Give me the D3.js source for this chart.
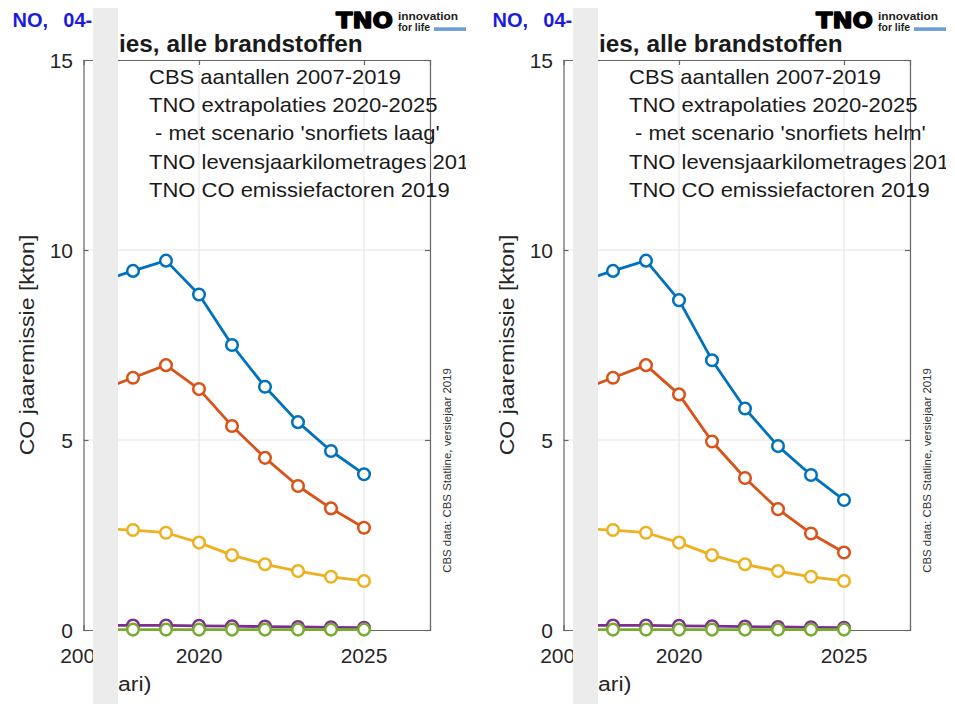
<!DOCTYPE html>
<html><head><meta charset="utf-8">
<script src="https://cdn.jsdelivr.net/npm/d3@7"></script>
<style>body{margin:0;background:#fff}svg{display:block}</style>
</head><body>
<svg id="chart" width="955" height="704"></svg>
<script>
// ---- data ----
const years = [2017, 2018, 2019, 2020, 2021, 2022, 2023, 2024, 2025];
const blueLaag   = [9.17, 9.45, 9.72, 8.83, 7.50, 6.40, 5.47, 4.71, 4.10];
const orangeLaag = [6.30, 6.64, 6.97, 6.34, 5.37, 4.53, 3.79, 3.20, 2.69];
const yellowLaag = [2.67, 2.63, 2.56, 2.30, 1.97, 1.73, 1.55, 1.40, 1.29];
const blueHelm   = [9.17, 9.45, 9.72, 8.68, 7.10, 5.83, 4.84, 4.08, 3.42];
const orangeHelm = [6.30, 6.64, 6.97, 6.20, 4.96, 4.00, 3.18, 2.54, 2.04];
const yellowHelm = [2.67, 2.63, 2.56, 2.30, 1.97, 1.73, 1.55, 1.40, 1.29];
const purpleVals = [0.12, 0.12, 0.12, 0.11, 0.10, 0.09, 0.08, 0.07, 0.06];
const greenVals  = [0.01, 0.01, 0.01, 0.01, 0.01, 0.01, 0.01, 0.01, 0.01];
const seriesColors = ["#0072BD", "#D95319", "#EDB120", "#7E2F8E", "#77AC30"];
const yTicks = [0, 5, 10, 15];
const xTicks = [2020, 2025];
const xEdgeLabel = "2007";
const titleText = "ies, alle brandstoffen";
const headText = ["NO,", "04-"];
const yLabel = "CO jaaremissie [kton]";
const xLabelTail = "ari)";
const noteText = "CBS data: CBS Statline, versiejaar 2019";
const legendLaag = ["CBS aantallen 2007-2019", "TNO extrapolaties 2020-2025", "- met scenario 'snorfiets laag'", "TNO levensjaarkilometrages 2019", "TNO CO emissiefactoren 2019"];
const legendHelm = ["CBS aantallen 2007-2019", "TNO extrapolaties 2020-2025", "- met scenario 'snorfiets helm'", "TNO levensjaarkilometrages 2019", "TNO CO emissiefactoren 2019"];

const FONT = "Arial, 'Liberation Sans', Helvetica, sans-serif";
const svg = d3.select("#chart");
const defs = svg.append("defs");
defs.append("clipPath").attr("id", "panelClip").append("rect")
  .attr("x", 0).attr("y", 0).attr("width", 466).attr("height", 704);
defs.append("clipPath").attr("id", "dataClip").append("rect")
  .attr("x", 118).attr("y", 40).attr("width", 348).attr("height", 620);

const x = d3.scaleLinear().domain([2016.5, 2027]).range([83.5, 430]);
const y = d3.scaleLinear().domain([0, 15]).range([630, 60]);

function drawPanel(offset, seriesList, legendLines) {
  const root = svg.append("g").attr("transform", `translate(${offset},0)`);
  const g = root.append("g").attr("clip-path", "url(#panelClip)");

  // grid
  g.selectAll(".vg").data(xTicks).join("line")
    .attr("x1", d => x(d)).attr("x2", d => x(d)).attr("y1", y(15)).attr("y2", y(0))
    .attr("stroke", "#e3e3e3").attr("stroke-width", 1);
  g.selectAll(".hg").data(yTicks.filter(t => t > 0 && t < 15)).join("line")
    .attr("x1", x.range()[0]).attr("x2", x.range()[1]).attr("y1", d => y(d)).attr("y2", d => y(d))
    .attr("stroke", "#e3e3e3").attr("stroke-width", 1);

  // axes (d3 axes, styled like the reference)
  const axL = g.append("g").attr("transform", `translate(${x.range()[0]},0)`)
    .call(d3.axisRight(y).tickValues(yTicks).tickSize(5).tickFormat(""));
  const axR = g.append("g").attr("transform", `translate(${x.range()[1]},0)`)
    .call(d3.axisLeft(y).tickValues(yTicks).tickSize(5).tickFormat(""));
  const axT = g.append("g").attr("transform", `translate(0,${y(15)})`)
    .call(d3.axisBottom(x).tickValues(xTicks).tickSize(5).tickFormat(""));
  const axB = g.append("g").attr("transform", `translate(0,${y(0)})`)
    .call(d3.axisTop(x).tickValues(xTicks).tickSize(5).tickFormat(""));
  [axL, axR, axT, axB].forEach(a => {
    a.selectAll("path,line").attr("stroke", "#666").attr("stroke-width", 1.2);
  });

  // y tick labels
  g.selectAll(".yl").data(yTicks).join("text")
    .attr("x", 73).attr("y", d => y(d)).attr("dy", "0.36em")
    .attr("text-anchor", "end").attr("font-family", FONT).attr("font-size", 21)
    .attr("fill", "#262626").text(d => d);
  // x tick labels
  g.selectAll(".xl").data(xTicks).join("text")
    .attr("x", d => x(d)).attr("y", 663)
    .attr("text-anchor", "middle").attr("font-family", FONT).attr("font-size", 21)
    .attr("fill", "#262626").text(d => d);
  g.append("text").attr("x", x.range()[0]).attr("y", 663).attr("text-anchor", "middle")
    .attr("font-family", FONT).attr("font-size", 21).attr("fill", "#262626").text(xEdgeLabel);

  // y label
  g.append("text").attr("transform", "translate(34,345) rotate(-90) scale(1.1,1)")
    .attr("text-anchor", "middle").attr("font-family", FONT).attr("font-size", 21)
    .attr("fill", "#262626").text(yLabel);

  // blue heading
  g.append("text").attr("x", 12.5).attr("y", 27).attr("font-family", FONT).attr("font-size", 20)
    .attr("font-weight", "bold").attr("fill", "#1c1ce0").text(headText[0]);
  g.append("text").attr("x", 63.3).attr("y", 27).attr("font-family", FONT).attr("font-size", 20)
    .attr("font-weight", "bold").attr("fill", "#1c1ce0").text(headText[1]);

  // data
  const dg = g.append("g").attr("clip-path", "url(#dataClip)");
  const line = d3.line().x((d, i) => x(years[i])).y(d => y(d));
  seriesList.forEach((vals, k) => {
    const c = seriesColors[k];
    dg.append("path").datum(vals).attr("d", line).attr("fill", "none")
      .attr("stroke", c).attr("stroke-width", 2.8).attr("stroke-linejoin", "round");
    dg.selectAll(null).data(vals).join("circle")
      .attr("cx", (d, i) => x(years[i])).attr("cy", d => y(d)).attr("r", 5.8)
      .attr("fill", "#fff").attr("stroke", c).attr("stroke-width", 2.5);
  });

  // legend-like text block
  legendLines.forEach((t, i) => {
    const xx = i === 2 ? 155 : 149;
    g.append("text").attr("transform", `translate(${xx},${84 + i * 28.2}) scale(1.1,1)`)
      .attr("font-family", FONT).attr("font-size", 20).attr("fill", "#1a1a1a").text(t);
  });

  // note
  g.append("text").attr("transform", "translate(450.5,470.5) rotate(-90) scale(1.04,1)")
    .attr("text-anchor", "middle").attr("font-family", FONT).attr("font-size", 11)
    .attr("fill", "#333").text(noteText);

  // title
  g.append("text").attr("transform", "translate(119,52) scale(1.06,1)")
    .attr("font-family", FONT).attr("font-size", 23).attr("font-weight", "bold")
    .attr("fill", "#1a1a1a").text(titleText);

  // x label tail
  g.append("text").attr("transform", "translate(118,691) scale(1.1,1)")
    .attr("font-family", FONT).attr("font-size", 21).attr("fill", "#262626").text(xLabelTail);

  // logo
  g.append("text").attr("x", 336).attr("y", 28).attr("font-family", "'DejaVu Sans', sans-serif")
    .attr("font-size", 20.5).attr("font-weight", 900).attr("fill", "#000")
    .attr("stroke", "#000").attr("stroke-width", 1.3).attr("stroke-linejoin", "round")
    .attr("textLength", 57).attr("lengthAdjust", "spacingAndGlyphs").text("TNO");
  g.append("text").attr("x", 398).attr("y", 19.5).attr("font-family", FONT)
    .attr("font-size", 11).attr("font-weight", "bold").attr("fill", "#222")
    .attr("textLength", 60).attr("lengthAdjust", "spacingAndGlyphs").text("innovation");
  g.append("text").attr("x", 398).attr("y", 30.5).attr("font-family", FONT)
    .attr("font-size", 11).attr("font-weight", "bold").attr("fill", "#222")
    .attr("textLength", 32).attr("lengthAdjust", "spacingAndGlyphs").text("for life");
  g.append("rect").attr("x", 434).attr("y", 27.3).attr("width", 32).attr("height", 3.6).attr("fill", "#6a9fd3");

  // grey band
  g.append("rect").attr("x", 93).attr("y", 8).attr("width", 25).attr("height", 696).attr("fill", "#ececec");
}

drawPanel(0, [blueLaag, orangeLaag, yellowLaag, purpleVals, greenVals], legendLaag);
drawPanel(480, [blueHelm, orangeHelm, yellowHelm, purpleVals, greenVals], legendHelm);
</script>
</body></html>
